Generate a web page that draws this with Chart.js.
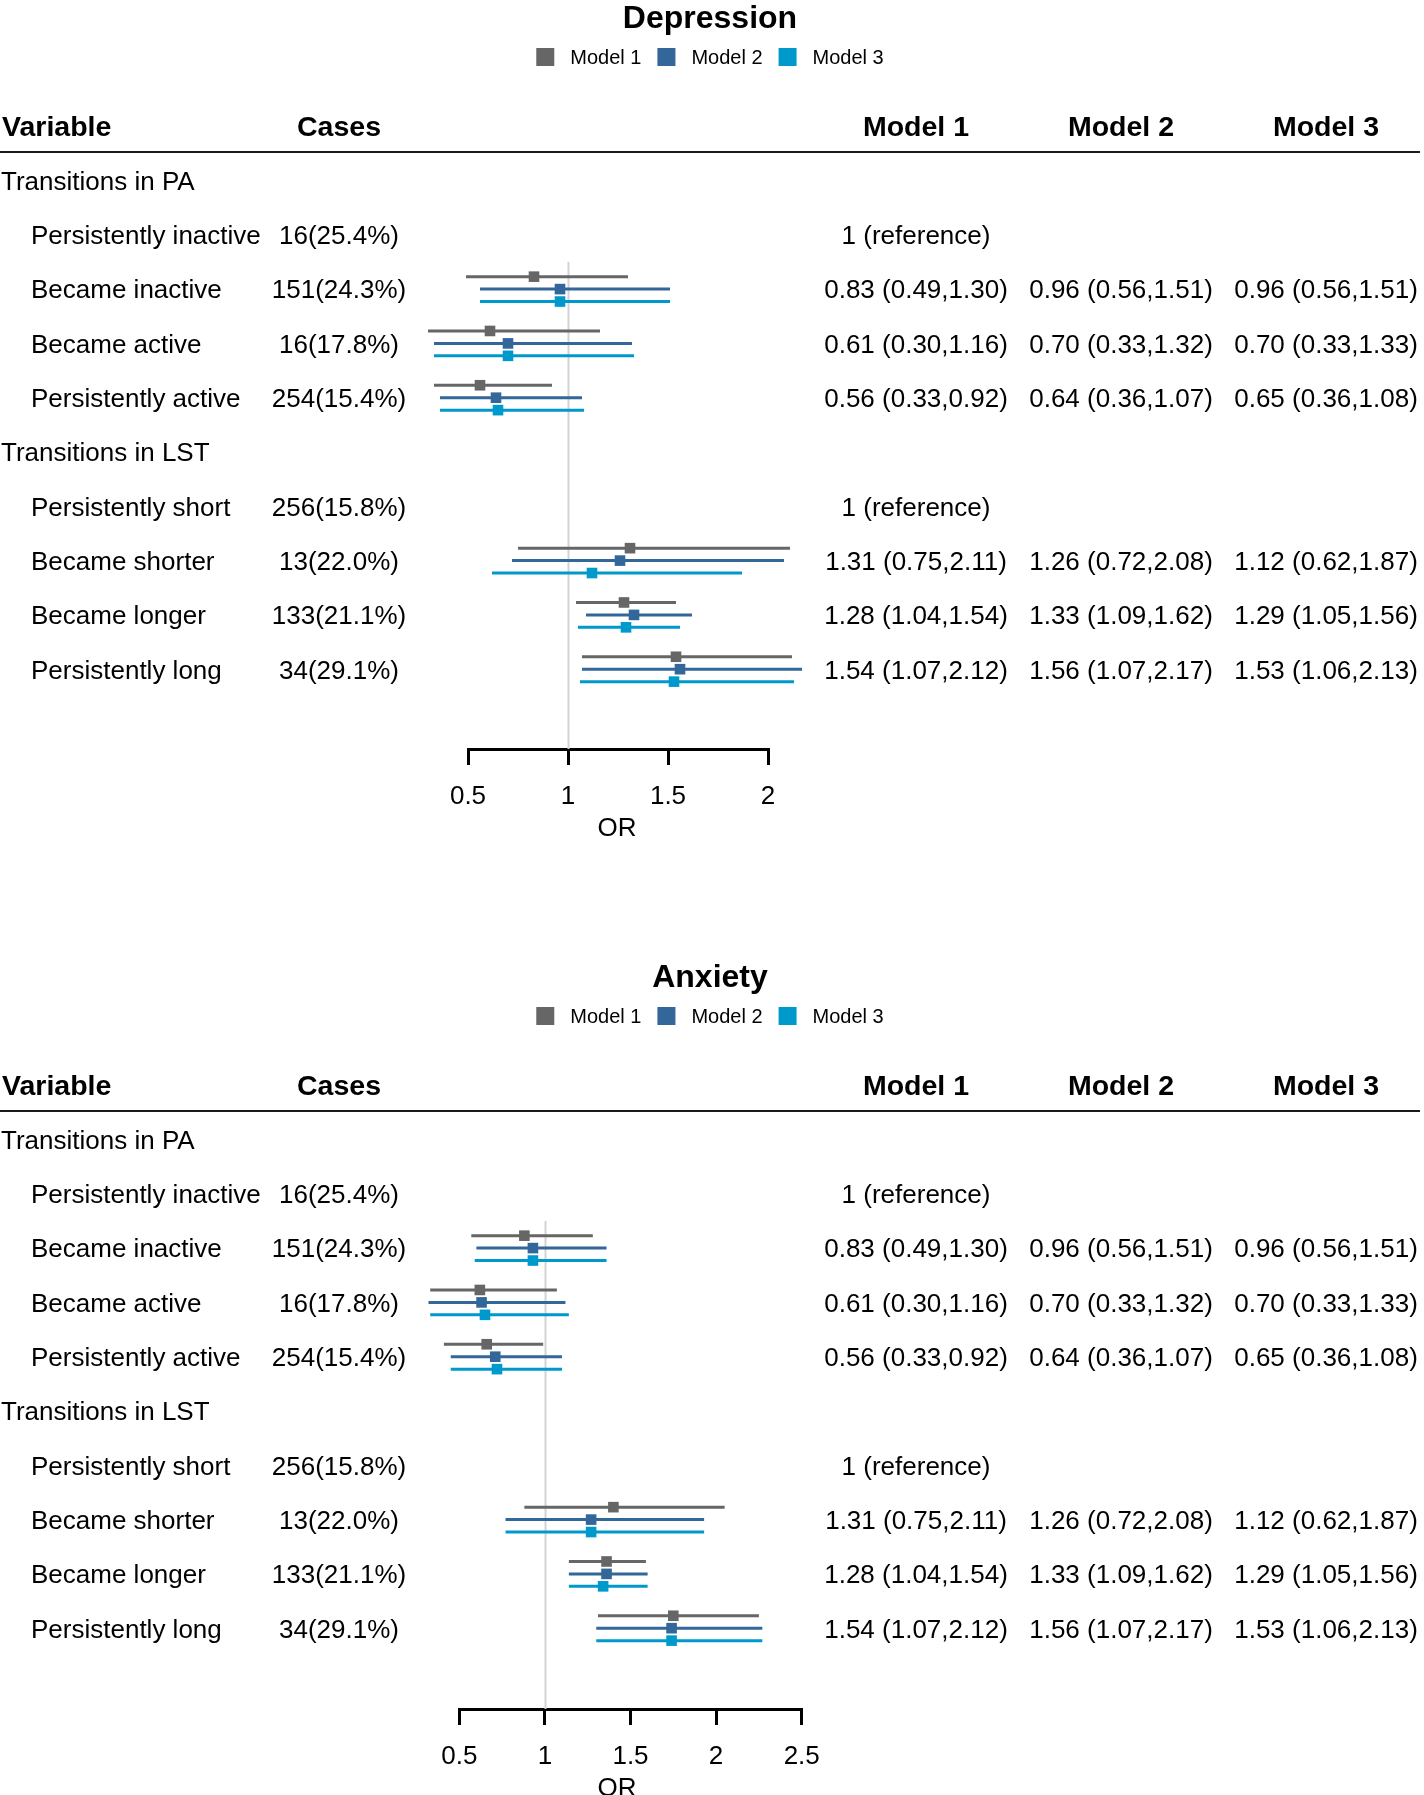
<!DOCTYPE html>
<html>
<head>
<meta charset="utf-8">
<script src="https://cdn.jsdelivr.net/npm/chart.js@4.4.1/dist/chart.umd.min.js"></script>
<style>
  html, body { margin: 0; padding: 0; background: #ffffff; }
  canvas { display: block; }
</style>
</head>
<body>
<canvas id="dep" width="1424" height="959"></canvas>
<canvas id="anx" width="1424" height="836"></canvas>
<script>
// ---------------- DATA ----------------
const rowLabels = ['Transitions in PA', 'Persistently inactive', 'Became inactive', 'Became active', 'Persistently active',
                   'Transitions in LST', 'Persistently short', 'Became shorter', 'Became longer', 'Persistently long'];
const rowIsGroup = [true, false, false, false, false, true, false, false, false, false];
const casesCol = ['', '16(25.4%)', '151(24.3%)', '16(17.8%)', '254(15.4%)', '', '256(15.8%)', '13(22.0%)', '133(21.1%)', '34(29.1%)'];
const tableModel1 = ['', '1 (reference)', '0.83 (0.49,1.30)', '0.61 (0.30,1.16)', '0.56 (0.33,0.92)', '', '1 (reference)', '1.31 (0.75,2.11)', '1.28 (1.04,1.54)', '1.54 (1.07,2.12)'];
const tableModel2 = ['', '', '0.96 (0.56,1.51)', '0.70 (0.33,1.32)', '0.64 (0.36,1.07)', '', '', '1.26 (0.72,2.08)', '1.33 (1.09,1.62)', '1.56 (1.07,2.17)'];
const tableModel3 = ['', '', '0.96 (0.56,1.51)', '0.70 (0.33,1.33)', '0.65 (0.36,1.08)', '', '', '1.12 (0.62,1.87)', '1.29 (1.05,1.56)', '1.53 (1.06,2.13)'];
const modelNames = ['Model 1', 'Model 2', 'Model 3'];
const modelColors = ['#666666', '#336699', '#0099CC'];

// Depression (plotted)
const depM1Est = [null, null, 0.83, 0.61, 0.56, null, null, 1.31, 1.28, 1.54];
const depM1Lo  = [null, null, 0.49, 0.30, 0.33, null, null, 0.75, 1.04, 1.07];
const depM1Hi  = [null, null, 1.30, 1.16, 0.92, null, null, 2.11, 1.54, 2.12];
const depM2Est = [null, null, 0.96, 0.70, 0.64, null, null, 1.26, 1.33, 1.56];
const depM2Lo  = [null, null, 0.56, 0.33, 0.36, null, null, 0.72, 1.09, 1.07];
const depM2Hi  = [null, null, 1.51, 1.32, 1.07, null, null, 2.08, 1.62, 2.17];
const depM3Est = [null, null, 0.96, 0.70, 0.65, null, null, 1.12, 1.29, 1.53];
const depM3Lo  = [null, null, 0.56, 0.33, 0.36, null, null, 0.62, 1.05, 1.06];
const depM3Hi  = [null, null, 1.51, 1.33, 1.08, null, null, 1.87, 1.56, 2.13];
const depTicks = [0.5, 1, 1.5, 2];

// Anxiety (plotted)
const anxM1Est = [null, null, 0.88, 0.62, 0.66, null, null, 1.40, 1.36, 1.75];
const anxM1Lo  = [null, null, 0.57, 0.33, 0.41, null, null, 0.88, 1.14, 1.31];
const anxM1Hi  = [null, null, 1.28, 1.07, 0.99, null, null, 2.05, 1.59, 2.25];
const anxM2Est = [null, null, 0.93, 0.63, 0.71, null, null, 1.27, 1.36, 1.74];
const anxM2Lo  = [null, null, 0.60, 0.32, 0.45, null, null, 0.77, 1.14, 1.30];
const anxM2Hi  = [null, null, 1.36, 1.12, 1.10, null, null, 1.93, 1.60, 2.27];
const anxM3Est = [null, null, 0.93, 0.65, 0.72, null, null, 1.27, 1.34, 1.74];
const anxM3Lo  = [null, null, 0.59, 0.33, 0.45, null, null, 0.77, 1.14, 1.30];
const anxM3Hi  = [null, null, 1.36, 1.14, 1.10, null, null, 1.93, 1.60, 2.27];
const anxTicks = [0.5, 1, 1.5, 2, 2.5];

// ---------------- STYLE / LAYOUT ----------------
const FONT = '"Liberation Sans", Arial, Helvetica, sans-serif';
const ROW0 = 180.5, ROWH = 54.3;
const OFFS = [-0.229, 0, 0.229];
const REF_TOP_ROW = 1.5;
const COLS = { variable: 2, groupX: 1, subX: 31, cases: 339, m1: 916, m2: 1121, m3: 1326 };

function txt(ctx, s, x, y, size, weight, align) {
  ctx.font = (weight || 'normal') + ' ' + size + 'px ' + FONT;
  ctx.textAlign = align || 'left';
  ctx.textBaseline = 'alphabetic';
  ctx.fillStyle = '#000';
  ctx.fillText(s, x, y);
}

const forestPlugin = {
  id: 'forest',
  beforeDatasetsDraw(chart) {
    const { ctx, scales: { x, y } } = chart;
    ctx.save();
    // reference line at OR = 1
    const xr = Math.round(x.getPixelForValue(1)) + 0.5;
    ctx.strokeStyle = '#d3d3d3';
    ctx.lineWidth = 2;
    ctx.beginPath();
    ctx.moveTo(xr, y.getPixelForValue(REF_TOP_ROW));
    ctx.lineTo(xr, chart.chartArea.bottom);
    ctx.stroke();
    // confidence interval whiskers
    ctx.lineWidth = 3;
    ctx.lineCap = 'butt';
    chart.data.datasets.forEach(ds => {
      ctx.strokeStyle = ds.borderColor;
      ds.data.forEach(p => {
        const py = y.getPixelForValue(p.y);
        ctx.beginPath();
        ctx.moveTo(x.getPixelForValue(p.lo), py);
        ctx.lineTo(x.getPixelForValue(p.hi), py);
        ctx.stroke();
      });
    });
    ctx.restore();
  },
  afterDraw(chart) {
    const { ctx, scales: { x, y } } = chart;
    const o = chart.options.plugins.forest;
    ctx.save();
    // title
    txt(ctx, o.title, 710, 27.5, 32, 'bold', 'center');
    // legend
    ctx.font = '20px ' + FONT;
    const box = 18, gap = 16;
    const widths = chart.data.datasets.map(ds => ctx.measureText(ds.label).width);
    const total = widths.reduce((a, w) => a + box + gap + w, 0) + gap * (widths.length - 1);
    let lx = 710 - total / 2;
    chart.data.datasets.forEach((ds, i) => {
      ctx.fillStyle = ds.backgroundColor;
      ctx.fillRect(lx, 48, box, box);
      txt(ctx, ds.label, lx + box + gap, 64.2, 20, 'normal', 'left');
      lx += box + gap + widths[i] + gap;
    });
    // header
    txt(ctx, 'Variable', COLS.variable, 136.3, 28.5, 'bold', 'left');
    txt(ctx, 'Cases', COLS.cases, 136.3, 28.5, 'bold', 'center');
    txt(ctx, 'Model 1', COLS.m1, 136.3, 28.5, 'bold', 'center');
    txt(ctx, 'Model 2', COLS.m2, 136.3, 28.5, 'bold', 'center');
    txt(ctx, 'Model 3', COLS.m3, 136.3, 28.5, 'bold', 'center');
    ctx.strokeStyle = '#1a1a1a';
    ctx.lineWidth = 2;
    ctx.beginPath();
    ctx.moveTo(0, 152);
    ctx.lineTo(1420, 152);
    ctx.stroke();
    // rows
    rowLabels.forEach((lab, r) => {
      const by = y.getPixelForValue(r) + 9.3;
      txt(ctx, lab, rowIsGroup[r] ? COLS.groupX : COLS.subX, by, 26, 'normal', 'left');
      if (casesCol[r]) txt(ctx, casesCol[r], COLS.cases, by, 26, 'normal', 'center');
      if (tableModel1[r]) txt(ctx, tableModel1[r], COLS.m1, by, 26, 'normal', 'center');
      if (tableModel2[r]) txt(ctx, tableModel2[r], COLS.m2, by, 26, 'normal', 'center');
      if (tableModel3[r]) txt(ctx, tableModel3[r], COLS.m3, by, 26, 'normal', 'center');
    });
    // axis title
    txt(ctx, 'OR', 617, chart.chartArea.bottom + 87, 26, 'normal', 'center');
    ctx.restore();
  }
};

function makePanel(id, title, est, lo, hi, ticks, xLeft, xRight, axisY) {
  const canvas = document.getElementById(id);
  const H = canvas.height, W = canvas.width;
  const datasets = modelNames.map((name, k) => ({
    label: name,
    data: rowLabels.map((_, r) => est[k][r] == null ? null :
      { x: est[k][r], y: r + OFFS[k], lo: lo[k][r], hi: hi[k][r] }).filter(Boolean),
    backgroundColor: modelColors[k],
    borderColor: modelColors[k],
    borderWidth: 0,
    pointStyle: 'rect',
    pointRadius: 7.5,
    pointHoverRadius: 7.5,
    clip: false
  }));
  return new Chart(canvas, {
    type: 'scatter',
    data: { datasets },
    options: {
      responsive: false,
      animation: false,
      devicePixelRatio: 1,
      events: [],
      layout: { autoPadding: false, padding: { left: xLeft, right: W - xRight, top: 0, bottom: 0 } },
      plugins: {
        legend: { display: false },
        title: { display: false },
        tooltip: { enabled: false },
        forest: { title }
      },
      scales: {
        x: {
          type: 'linear',
          min: ticks[0],
          max: ticks[ticks.length - 1],
          afterBuildTicks: s => { s.ticks = ticks.map(v => ({ value: v })); },
          afterFit: s => { s.height = H - axisY; },
          grid: { drawOnChartArea: false, drawTicks: true, tickLength: 16, tickWidth: 3, tickColor: '#000', color: '#000', lineWidth: 3 },
          border: { display: true, color: '#000', width: 3 },
          ticks: { color: '#000', font: { family: FONT, size: 26 }, padding: 16, maxRotation: 0, autoSkip: false,
                   callback: v => String(v) }
        },
        y: {
          type: 'linear',
          display: false,
          reverse: true,
          min: -ROW0 / ROWH,
          max: (axisY - ROW0) / ROWH
        }
      }
    },
    plugins: [forestPlugin]
  });
}

makePanel('dep', 'Depression',
  [depM1Est, depM2Est, depM3Est], [depM1Lo, depM2Lo, depM3Lo], [depM1Hi, depM2Hi, depM3Hi],
  depTicks, 468, 768, 749);
makePanel('anx', 'Anxiety',
  [anxM1Est, anxM2Est, anxM3Est], [anxM1Lo, anxM2Lo, anxM3Lo], [anxM1Hi, anxM2Hi, anxM3Hi],
  anxTicks, 459.3, 801.7, 750);
</script>
</body>
</html>
